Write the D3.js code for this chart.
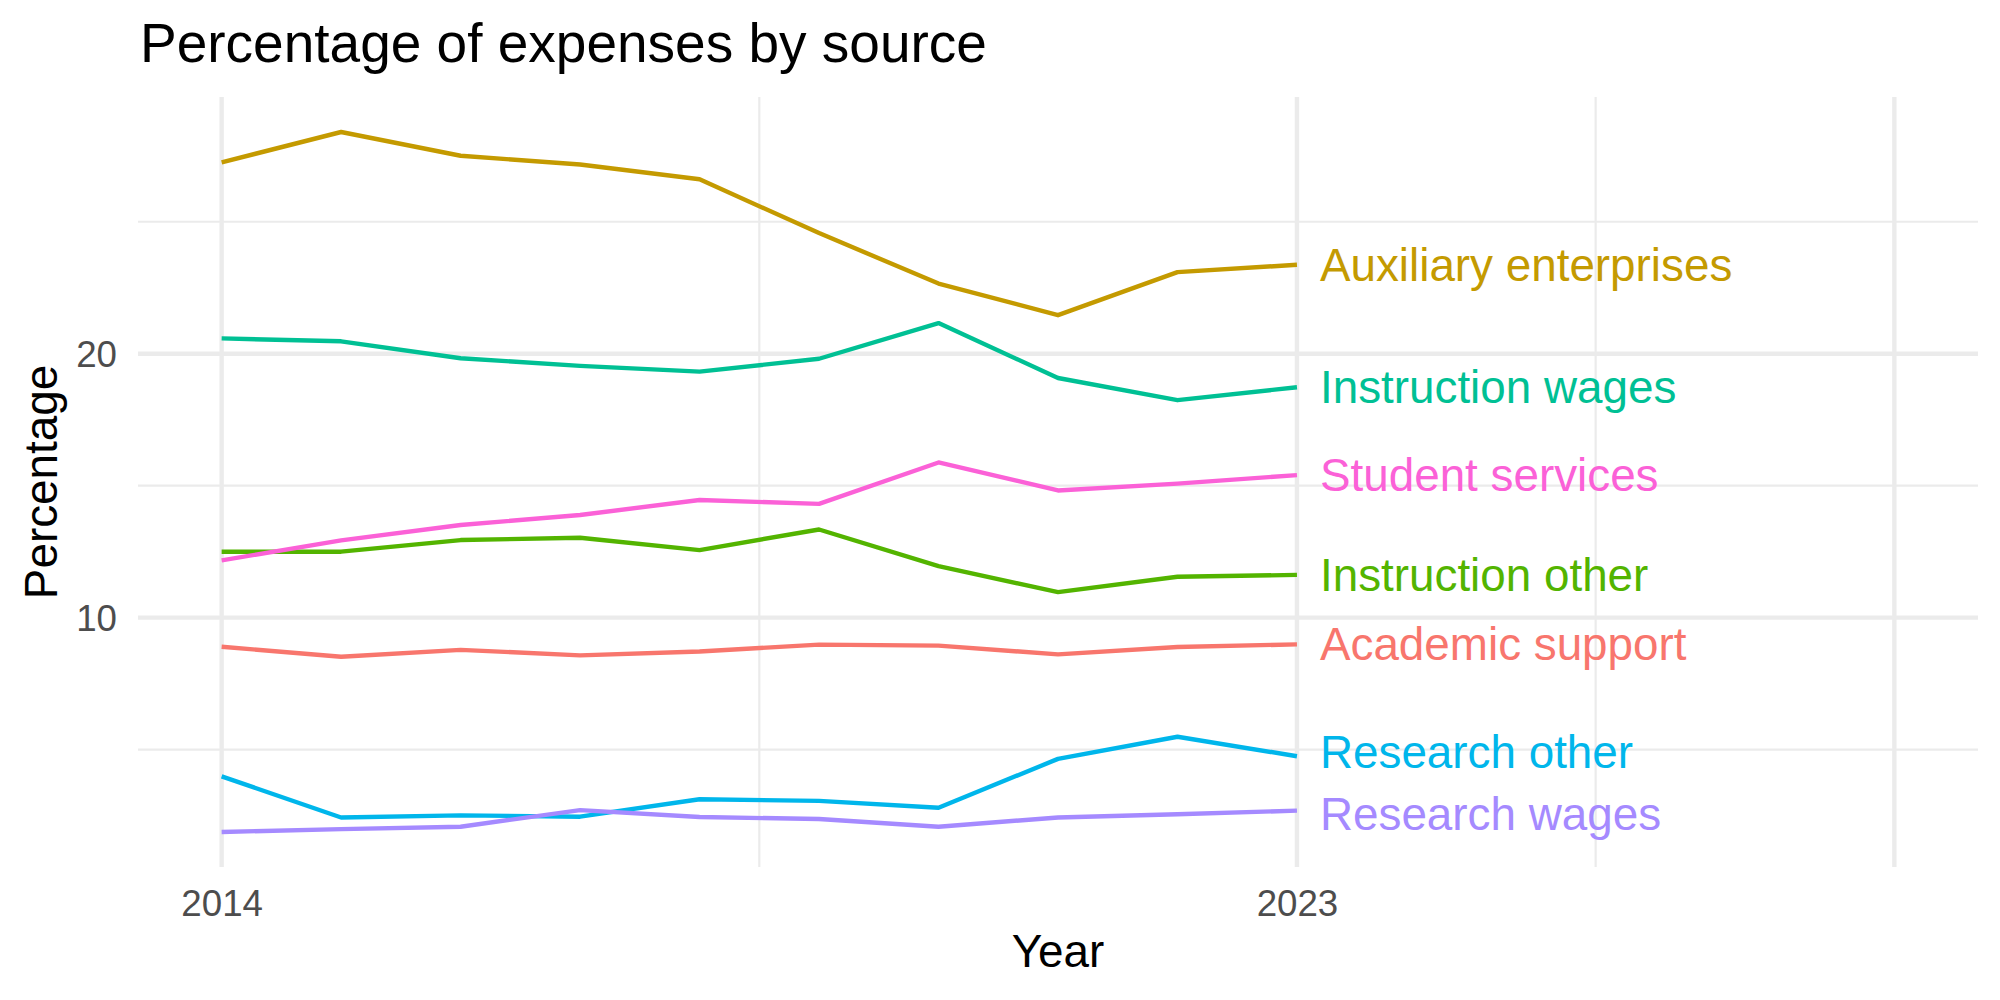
<!DOCTYPE html>
<html>

<head>
    <title>Percentage of expenses by source</title>
    <meta charset='utf-8'>
    <style>
        body {
            margin: 0;
            background: #ffffff;
        }

        text {
            font-family: "Liberation Sans", Arial, sans-serif;
        }
    </style>
</head>

<script src="https://cdnjs.cloudflare.com/ajax/libs/d3/7.8.5/d3.min.js"></script>

<div id="my_dataviz"></div>

<script>
    // ---- data ----
    const years = [2014, 2015, 2016, 2017, 2018, 2019, 2020, 2021, 2022, 2023]

    const categories = ["Academic support", "Auxiliary enterprises", "Instruction other",
        "Instruction wages", "Research other", "Research wages", "Student services"]

    const academicSupport = [8.90, 8.52, 8.78, 8.57, 8.72, 8.98, 8.94, 8.61, 8.89, 8.99]
    const auxiliaryEnterprises = [27.25, 28.40, 27.50, 27.17, 26.61, 24.57, 22.66, 21.46, 23.09, 23.37]
    const instructionOther = [12.50, 12.50, 12.94, 13.03, 12.56, 13.34, 11.95, 10.97, 11.55, 11.62]
    const instructionWages = [20.58, 20.47, 19.83, 19.54, 19.32, 19.81, 21.16, 19.08, 18.24, 18.73]
    const researchOther = [3.99, 2.43, 2.51, 2.46, 3.12, 3.06, 2.80, 4.65, 5.49, 4.75]
    const researchWages = [1.88, 1.99, 2.08, 2.71, 2.45, 2.37, 2.08, 2.43, 2.55, 2.69]
    const studentServices = [12.17, 12.93, 13.51, 13.89, 14.46, 14.31, 15.88, 14.82, 15.08, 15.40]

    const seriesValues = [academicSupport, auxiliaryEnterprises, instructionOther,
        instructionWages, researchOther, researchWages, studentServices]

    const xMajorTicks = [2014, 2023, 2028]
    const xMinorTicks = [2018.5, 2025.5]
    const xTickLabels = ["2014", "2023", ""]
    const yMajorTicks = [10, 20]
    const yMinorTicks = [5, 15, 25]
    const xLimit = [2014, 2028]

    // ggplot default hue palette
    const palette = ["#F8766D", "#C49A00", "#53B400", "#00C094", "#00B6EB", "#A58AFF", "#FB61D7"]

    // ---- layout ----
    const W = 2000,
        H = 1000
    const panel = {
        left: 138,
        right: 1978,
        top: 97,
        bottom: 867
    }

    const svg = d3.select("#my_dataviz")
        .append("svg")
        .attr("width", W)
        .attr("height", H)

    const series = categories.map((c, i) => ({
        name: c,
        color: palette[i],
        values: years.map((yr, j) => ({
            year: yr,
            value: seriesValues[i][j]
        }))
    }))

    // continuous scales with ggplot's 5% expansion
    const xSpan = xLimit[1] - xLimit[0]
    const x = d3.scaleLinear()
        .domain([xLimit[0] - 0.05 * xSpan, xLimit[1] + 0.05 * xSpan])
        .range([panel.left, panel.right])

    const allVals = seriesValues.flat()
    const yMin = d3.min(allVals),
        yMax = d3.max(allVals)
    const ySpan = yMax - yMin
    const y = d3.scaleLinear()
        .domain([yMin - 0.05 * ySpan, yMax + 0.05 * ySpan])
        .range([panel.bottom, panel.top])

    // ---- grid ----
    const grid = svg.append("g")
    grid.selectAll(".ymin")
        .data(yMinorTicks)
        .join("line")
        .attr("x1", panel.left).attr("x2", panel.right)
        .attr("y1", d => y(d)).attr("y2", d => y(d))
        .attr("stroke", "#EBEBEB").attr("stroke-width", 2.2)
    grid.selectAll(".xmin")
        .data(xMinorTicks)
        .join("line")
        .attr("x1", d => x(d)).attr("x2", d => x(d))
        .attr("y1", panel.top).attr("y2", panel.bottom)
        .attr("stroke", "#EBEBEB").attr("stroke-width", 2.2)
    grid.selectAll(".ymaj")
        .data(yMajorTicks)
        .join("line")
        .attr("x1", panel.left).attr("x2", panel.right)
        .attr("y1", d => y(d)).attr("y2", d => y(d))
        .attr("stroke", "#EBEBEB").attr("stroke-width", 4.4)
    grid.selectAll(".xmaj")
        .data(xMajorTicks)
        .join("line")
        .attr("x1", d => x(d)).attr("x2", d => x(d))
        .attr("y1", panel.top).attr("y2", panel.bottom)
        .attr("stroke", "#EBEBEB").attr("stroke-width", 4.4)

    // ---- axes (tick labels only, theme_minimal) ----
    const xAxis = svg.append("g")
        .attr("transform", `translate(0, ${panel.bottom})`)
        .call(d3.axisBottom(x).tickValues(xMajorTicks)
            .tickFormat((d, i) => xTickLabels[i]).tickSize(0).tickPadding(0))
    xAxis.select(".domain").remove()
    xAxis.selectAll("text")
        .attr("y", 49)
        .attr("dy", 0)
        .attr("fill", "#4D4D4D")
        .style("font-size", "36.7px")
        .style("font-family", "Liberation Sans, Arial, sans-serif")

    const yAxis = svg.append("g")
        .attr("transform", `translate(117, 0)`)
        .call(d3.axisLeft(y).tickValues(yMajorTicks).tickFormat(d3.format("d")).tickSize(0).tickPadding(0))
    yAxis.select(".domain").remove()
    yAxis.selectAll("text")
        .attr("x", 0)
        .attr("dy", "0.35em")
        .attr("fill", "#4D4D4D")
        .style("font-size", "36.7px")
        .style("font-family", "Liberation Sans, Arial, sans-serif")

    // ---- lines ----
    const line = d3.line()
        .x(d => x(d.year))
        .y(d => y(d.value))

    svg.append("g")
        .selectAll("path")
        .data(series)
        .join("path")
        .attr("d", d => line(d.values))
        .attr("fill", "none")
        .attr("stroke", d => d.color)
        .attr("stroke-width", 4.4)
        .attr("stroke-linejoin", "round")

    // ---- end labels, pushed apart a little where they crowd ----
    const labels = series.map(s => ({
        name: s.name,
        color: s.color,
        px: x(years[years.length - 1]) + 23,
        py: y(s.values[s.values.length - 1].value)
    }))
    const minGap = 62
    const order = labels.slice().sort((a, b) => a.py - b.py)
    for (let k = 0; k < 20; k++) {
        for (let i = 1; i < order.length; i++) {
            const gap = order[i].py - order[i - 1].py
            if (gap < minGap) {
                const shift = (minGap - gap) / 2
                order[i - 1].py -= shift
                order[i].py += shift
            }
        }
    }

    svg.append("g")
        .selectAll("text")
        .data(labels)
        .join("text")
        .attr("x", d => d.px)
        .attr("y", d => d.py)
        .attr("dy", "0.35em")
        .attr("fill", d => d.color)
        .style("font-size", "45.8px")
        .text(d => d.name)

    // ---- titles ----
    svg.append("text")
        .attr("x", 140)
        .attr("y", 62)
        .style("font-size", "55px")
        .attr("fill", "#000")
        .text("Percentage of expenses by source")

    svg.append("text")
        .attr("text-anchor", "middle")
        .attr("x", (panel.left + panel.right) / 2)
        .attr("y", 967)
        .style("font-size", "45.8px")
        .attr("fill", "#000")
        .text("Year")

    svg.append("text")
        .attr("text-anchor", "middle")
        .attr("transform", `translate(57, ${(panel.top + panel.bottom) / 2}) rotate(-90)`)
        .style("font-size", "45.8px")
        .attr("fill", "#000")
        .text("Percentage")
</script>

</html>
